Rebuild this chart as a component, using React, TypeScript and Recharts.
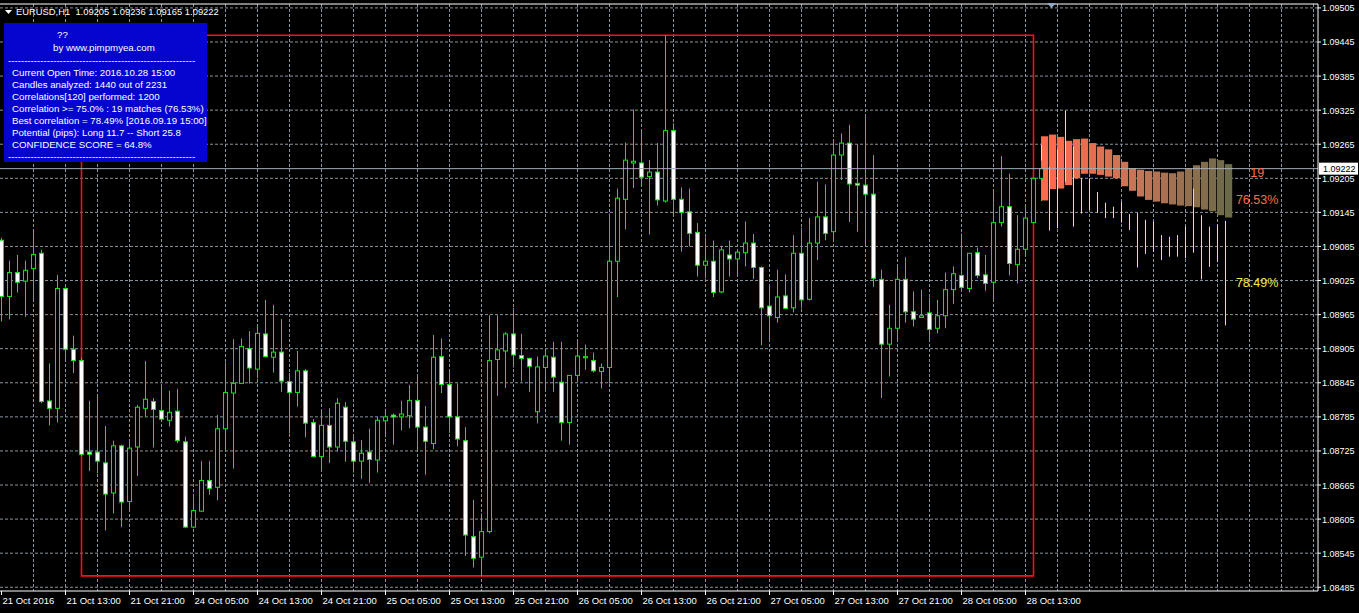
import React from 'react';
import {
  ComposedChart,
  Bar,
  XAxis,
  YAxis,
  CartesianGrid,
  ReferenceLine,
  ReferenceArea,
  ReferenceDot,
} from 'recharts';

const W = 1359;
const H = 613;
const FONT = '"Liberation Sans", Arial, sans-serif';

// EURUSD H1, bar 0 = 21 Oct 2016 05:00, bar 130 = 28 Oct 15:00 (current)
const opens = [
  1.09096, 1.08997, 1.09039, 1.09024, 1.09046, 1.09073, 1.08813, 1.088, 1.09011, 1.08904,
  1.08884, 1.08723, 1.08723, 1.08704, 1.08651, 1.08734, 1.08636, 1.08732, 1.088, 1.08812,
  1.08796, 1.08779, 1.08795, 1.08741, 1.08591, 1.08619, 1.08673, 1.08661, 1.08764, 1.08827,
  1.08844, 1.08905, 1.08869, 1.08931, 1.0889, 1.08899, 1.08847, 1.08828, 1.08866, 1.08775,
  1.08715, 1.0877, 1.08732, 1.08802, 1.08741, 1.08707, 1.08723, 1.08709, 1.08778, 1.08788,
  1.08785, 1.08787, 1.08814, 1.08767, 1.08738, 1.08891, 1.08842, 1.08785, 1.08743, 1.08574,
  1.08538, 1.08583, 1.08886, 1.08901, 1.08931, 1.08893, 1.08888, 1.08794, 1.08872, 1.0889,
  1.08846, 1.08775, 1.08858, 1.08889, 1.08884, 1.08865, 1.08872, 1.09059, 1.09168, 1.09232,
  1.09232, 1.09208, 1.09216, 1.09165, 1.09289, 1.09168, 1.09146, 1.0911, 1.09052, 1.09059,
  1.09005, 1.0907, 1.09063, 1.09074, 1.09091, 1.09048, 1.0898, 1.0896, 1.08998, 1.08977,
  1.09073, 1.08992, 1.09091, 1.09137, 1.09111, 1.09246, 1.09267, 1.09196, 1.09193, 1.09177,
  1.09027, 1.08913, 1.08941, 1.09027, 1.0897, 1.0896, 1.08968, 1.08941, 1.08963, 1.09009,
  1.09034, 1.09011, 1.09074, 1.09035, 1.09022, 1.09127, 1.09155, 1.09053, 1.0908, 1.09127,
  1.09205,
];
const highs = [
  1.091, 1.0906, 1.0907, 1.0906, 1.09115, 1.09079, 1.08879, 1.09035, 1.09013, 1.08928,
  1.08889, 1.08813, 1.08824, 1.08769, 1.08743, 1.08736, 1.08743, 1.08806, 1.08883, 1.08818,
  1.08839, 1.08831, 1.08834, 1.0875, 1.08649, 1.08707, 1.08707, 1.08788, 1.08881, 1.08922,
  1.08923, 1.08936, 1.08943, 1.08991, 1.08982, 1.08957, 1.08862, 1.08901, 1.08869, 1.08781,
  1.08797, 1.088, 1.08818, 1.08811, 1.08753, 1.08744, 1.08764, 1.08785, 1.08798, 1.08791,
  1.08813, 1.08841, 1.08857, 1.08804, 1.08929, 1.08923, 1.08865, 1.08844, 1.08767, 1.08639,
  1.08615, 1.08964, 1.08964, 1.08934, 1.08977, 1.08931, 1.08889, 1.08891, 1.08903, 1.08917,
  1.08917, 1.08858, 1.08919, 1.08912, 1.08898, 1.08879, 1.09143, 1.09187, 1.09268, 1.09326,
  1.09291, 1.09237, 1.09267, 1.09457, 1.09302, 1.09189, 1.09187, 1.09126, 1.09101, 1.09095,
  1.09086, 1.09095, 1.0908, 1.09129, 1.09107, 1.0905, 1.09018, 1.09044, 1.09036, 1.09105,
  1.09118, 1.09135, 1.09199, 1.09194, 1.09269, 1.09284, 1.09299, 1.09265, 1.09315, 1.09246,
  1.09044, 1.08982, 1.0905, 1.09066, 1.09006, 1.09009, 1.08995, 1.08991, 1.09039, 1.0905,
  1.09108, 1.09073, 1.09083, 1.0907, 1.09184, 1.09244, 1.09213, 1.0914, 1.09154, 1.09206,
  1.09236,
];
const lows = [
  1.08953, 1.08957, 1.09004, 1.08961, 1.08992, 1.08809, 1.0877, 1.08775, 1.08886, 1.08862,
  1.08716, 1.0869, 1.08686, 1.08585, 1.08615, 1.08591, 1.08618, 1.08681, 1.08785, 1.08731,
  1.0878, 1.08768, 1.08739, 1.08589, 1.08589, 1.08618, 1.08648, 1.08638, 1.08728, 1.08694,
  1.08843, 1.08844, 1.08853, 1.0889, 1.08863, 1.08829, 1.08756, 1.08803, 1.08749, 1.08714,
  1.08689, 1.08704, 1.08724, 1.08706, 1.08687, 1.08676, 1.08669, 1.08687, 1.08749, 1.08736,
  1.08761, 1.08765, 1.08728, 1.08683, 1.08728, 1.08827, 1.08757, 1.08733, 1.0854, 1.0852,
  1.08505, 1.0858, 1.08822, 1.08836, 1.08872, 1.08847, 1.08829, 1.08774, 1.08833, 1.08829,
  1.08743, 1.08736, 1.08847, 1.08868, 1.08863, 1.08835, 1.08844, 1.08996, 1.09115, 1.09188,
  1.09193, 1.09106, 1.09157, 1.09162, 1.0914, 1.09076, 1.09085, 1.09032, 1.09029, 1.08996,
  1.09003, 1.09032, 1.09033, 1.0905, 1.09028, 1.08911, 1.08917, 1.08951, 1.08975, 1.08969,
  1.08976, 1.0899, 1.09061, 1.09096, 1.09093, 1.09202, 1.09128, 1.09111, 1.09086, 1.09014,
  1.08818, 1.08856, 1.08917, 1.08951, 1.08944, 1.08959, 1.0892, 1.08932, 1.08941, 1.08984,
  1.09005, 1.09004, 1.09029, 1.09007, 1.08989, 1.0912, 1.09034, 1.0902, 1.0907, 1.09126,
  1.09165,
];
const closes = [
  1.08997, 1.09039, 1.09022, 1.09043, 1.09071, 1.08812, 1.088, 1.09011, 1.08904, 1.08884,
  1.08719, 1.08719, 1.08707, 1.08649, 1.08734, 1.08635, 1.0873, 1.08802, 1.08816, 1.08798,
  1.08781, 1.08793, 1.08743, 1.08591, 1.0862, 1.08673, 1.08659, 1.08764, 1.08828, 1.08844,
  1.08909, 1.08871, 1.08932, 1.08891, 1.08899, 1.08848, 1.08828, 1.08866, 1.08774, 1.08715,
  1.0877, 1.08732, 1.08809, 1.08742, 1.08707, 1.08721, 1.0871, 1.08779, 1.08785, 1.08785,
  1.0879, 1.08814, 1.08767, 1.08742, 1.0889, 1.08842, 1.08785, 1.08746, 1.08577, 1.08536,
  1.08583, 1.08884, 1.08903, 1.08931, 1.08894, 1.08888, 1.08874, 1.08873, 1.08892, 1.08855,
  1.08775, 1.08858, 1.08892, 1.08891, 1.08866, 1.08872, 1.09059, 1.0917, 1.09237, 1.09235,
  1.09207, 1.09216, 1.09167, 1.09289, 1.09168, 1.09145, 1.09108, 1.09052, 1.09059, 1.09004,
  1.09079, 1.09063, 1.09075, 1.09091, 1.09048, 1.08977, 1.08963, 1.08996, 1.08976, 1.09073,
  1.08991, 1.09091, 1.09137, 1.09108, 1.09246, 1.09267, 1.09195, 1.09193, 1.09177, 1.09029,
  1.08913, 1.08941, 1.09027, 1.0897, 1.08957, 1.08963, 1.08939, 1.08963, 1.09009, 1.09037,
  1.09013, 1.09073, 1.09034, 1.0902, 1.09127, 1.09155, 1.09055, 1.0908, 1.09135, 1.09205,
  1.09222,
];

// projection band (average of the 19 matches), one column per future bar
const bandTop = [
  1.09279, 1.09282, 1.09278, 1.09271, 1.09274, 1.09275, 1.09267, 1.09261, 1.09256, 1.09246,
  1.09234, 1.09223, 1.0922, 1.09218, 1.09217, 1.09215, 1.09214, 1.09217, 1.09223, 1.09228,
  1.09234, 1.0924, 1.09237, 1.0923,
];
const bandBottom = [
  1.09166, 1.09186, 1.09187, 1.09193, 1.09205, 1.09213, 1.09213, 1.09211, 1.09208, 1.09205,
  1.09191, 1.09183, 1.09173, 1.09167, 1.09164, 1.09161, 1.09159, 1.09157, 1.09156, 1.09154,
  1.0915, 1.09147, 1.0914, 1.09136,
];
// best correlation match, high/low of the following bars
const bestHigh = [
  1.09264, 1.09225, 1.09256, 1.09324, 1.09261, 1.09205, 1.09205, 1.09181, 1.09162, 1.09155,
  1.09164, 1.09142, 1.09144, 1.09132, 1.09129, 1.09105, 1.09102, 1.09105, 1.0912, 1.09187,
  1.0914, 1.0912, 1.09123, 1.0913,
];
const bestLow = [
  1.09167, 1.09113, 1.09117, 1.09199, 1.0912, 1.09143, 1.09149, 1.09144, 1.09135, 1.09135,
  1.09127, 1.09114, 1.09048, 1.09072, 1.09076, 1.09061, 1.09067, 1.09067, 1.09064, 1.09074,
  1.09027, 1.09049, 1.09058, 1.08946,
];

const timeLabels = [
  '21 Oct 2016', '21 Oct 13:00', '21 Oct 21:00', '24 Oct 05:00', '24 Oct 13:00', '24 Oct 21:00',
  '25 Oct 05:00', '25 Oct 13:00', '25 Oct 21:00', '26 Oct 05:00', '26 Oct 13:00', '26 Oct 21:00',
  '27 Oct 05:00', '27 Oct 13:00', '27 Oct 21:00', '28 Oct 05:00', '28 Oct 13:00',
];
const labelBars = timeLabels.map((_, k) => k * 8);
const gridBars = Array.from({ length: 41 }, (_, k) => (k + 1) * 4);
const priceTicks = [
  1.09505, 1.09445, 1.09385, 1.09325, 1.09265, 1.09205, 1.09145, 1.09085, 1.09025,
  1.08965, 1.08905, 1.08845, 1.08785, 1.08725, 1.08665, 1.08605, 1.08545, 1.08485,
];

const FORECAST_START = 130;
const PATTERN_FROM = 10;
const PATTERN_TO = 129;
const CURRENT_PRICE = 1.09222;
const X_DOMAIN: [number, number] = [-0.1875, 164.5625];
const Y_DOMAIN: [number, number] = [1.084784, 1.095119];

const GREEN = '#00f000';
const BEST = '#f2ea4c';
const GRID = '#8a949e';

const rows: any[] = [];
for (let i = 0; i < FORECAST_START + bandTop.length; i++) {
  const r: any = { i };
  const vals: number[] = [];
  if (i < opens.length) {
    r.o = opens[i];
    r.h = highs[i];
    r.l = lows[i];
    r.c = closes[i];
    vals.push(r.h, r.l);
  }
  const k = i - FORECAST_START;
  if (k >= 0) {
    r.k = k;
    r.bt = bandTop[k];
    r.bb = bandBottom[k];
    r.yh = bestHigh[k];
    r.yl = bestLow[k];
    vals.push(r.bt, r.bb, r.yh, r.yl);
  }
  r.range = [Math.min(...vals), Math.max(...vals)];
  rows.push(r);
}

const patternHigh = Math.max(...highs.slice(PATTERN_FROM, PATTERN_TO + 1));
const patternLow = Math.min(...lows.slice(PATTERN_FROM, PATTERN_TO + 1));

// tomato -> salmon brown -> olive, stepping per column
const bandStops = [
  [255, 106, 76],
  [198, 118, 88],
  [106, 106, 72],
];
const bandColor = (k: number) => {
  const t = (k / (bandTop.length - 1)) * 2;
  const s = Math.min(Math.floor(t), 1);
  const f = t - s;
  const a = bandStops[s];
  const b = bandStops[s + 1];
  const c = a.map((v, j) => Math.round(v + (b[j] - v) * f));
  return `rgb(${c[0]},${c[1]},${c[2]})`;
};

const CandleShape = (props: any) => {
  const { x, y, width, height, payload: r } = props;
  if (!r || y == null) return null;
  const [lo, hi] = r.range;
  const py = (p: number) => y + ((hi - p) / (hi - lo)) * height;
  const cx = Math.round(x + width / 2 - 0.5) + 0.5;
  const parts: any[] = [];
  if (r.bt != null) {
    const t = py(r.bt);
    const b = py(r.bb);
    parts.push(<rect key="band" x={cx - 0.5} y={t} width={width} height={b - t} fill={bandColor(r.k)} />);
    parts.push(<line key="best" x1={cx} x2={cx} y1={py(r.yh)} y2={py(r.yl)} stroke={BEST} strokeWidth={1} />);
  }
  if (r.o != null) {
    const top = py(Math.max(r.o, r.c));
    const bot = py(Math.min(r.o, r.c));
    parts.push(<line key="wick" x1={cx} x2={cx} y1={py(r.h)} y2={py(r.l)} stroke={GREEN} strokeWidth={1} />);
    parts.push(
      <rect
        key="body"
        x={cx - 2}
        y={top}
        width={4}
        height={Math.max(bot - top, 0.5)}
        fill={r.c > r.o ? '#000' : '#fff'}
        stroke={GREEN}
        strokeWidth={1}
      />
    );
  }
  return <g>{parts}</g>;
};

const TimeTick = (props: any) => {
  const { x, y, payload } = props;
  const idx = labelBars.indexOf(payload.value);
  return (
    <g>
      <line x1={x} x2={x} y1={y - 4} y2={y} stroke="#fff" />
      <text x={x + 1} y={y + 9} fill="#fff" fontSize={9.5} fontFamily={FONT} textAnchor="start">
        {timeLabels[idx]}
      </text>
    </g>
  );
};

const PriceTick = (props: any) => {
  const { x, y, payload } = props;
  return (
    <text x={x} y={y + 3.5} fill="#fff" fontSize={9} fontFamily={FONT} textAnchor="start">
      {Number(payload.value).toFixed(5)}
    </text>
  );
};

const PriceBox = (props: any) => {
  const { viewBox } = props;
  const x = viewBox.x + viewBox.width + 1;
  const y = viewBox.y;
  return (
    <g>
      <rect x={x} y={y - 6} width={39} height={12} fill="#fff" />
      <text x={x + 4} y={y + 3.5} fill="#000" fontSize={9} fontFamily={FONT}>
        {CURRENT_PRICE.toFixed(5)}
      </text>
    </g>
  );
};

const sideLabel = (text: string, color: string) => (props: any) => {
  const { viewBox } = props;
  const x = viewBox.x + viewBox.width / 2;
  const y = viewBox.y + viewBox.height / 2;
  return (
    <text x={x} y={y + 4.5} fill={color} fontSize={12.5} fontFamily={FONT} textAnchor="start">
      {text}
    </text>
  );
};

const infoLines = [
  'Current Open Time: 2016.10.28 15:00',
  'Candles analyzed: 1440 out of 2231',
  'Correlations[120] performed: 1200',
  'Correlation >= 75.0% : 19 matches (76.53%)',
  'Best correlation = 78.49% [2016.09.19 15:00]',
  'Potential (pips): Long 11.7 -- Short 25.8',
  'CONFIDENCE SCORE = 64.8%',
];
const DASHES = '-'.repeat(58);

const InfoBox = () => {
  const line = (top: number, content: string, left = 8, key?: string) => (
    <div
      key={key}
      style={{
        position: 'absolute',
        left,
        top,
        height: 12,
        lineHeight: '12px',
        whiteSpace: 'nowrap',
      }}
    >
      {content}
    </div>
  );
  return (
    <div
      style={{
        position: 'absolute',
        left: 4,
        top: 23,
        width: 203,
        height: 139,
        background: '#0505cf',
        color: '#fff',
        fontFamily: FONT,
        fontSize: 9.7,
      }}
    >
      {line(6, '??', 53)}
      {line(19, 'by www.pimpmyea.com', 49)}
      {line(32, DASHES, 4)}
      {infoLines.map((t, j) => line(44 + j * 12, t, 8, 'l' + j))}
      {line(128, DASHES, 4)}
    </div>
  );
};

export default function App() {
  return (
    <div style={{ position: 'absolute', left: 0, top: 0, width: W, height: H, background: '#000', overflow: 'hidden' }}>
      <ComposedChart
        width={W}
        height={H}
        data={rows}
        margin={{ top: 4, right: 0, bottom: 0, left: 0 }}
        style={{ background: '#000' }}
      >
        <CartesianGrid
          stroke={GRID}
          strokeDasharray="3 2"
          horizontalValues={priceTicks}
          verticalValues={gridBars}
        />
        <XAxis
          dataKey="i"
          type="number"
          domain={X_DOMAIN}
          allowDataOverflow
          ticks={labelBars}
          interval={0}
          height={22}
          axisLine={{ stroke: '#fff' }}
          tickLine={false}
          tickSize={4}
          tickMargin={0}
          tick={<TimeTick />}
        />
        <YAxis
          type="number"
          orientation="right"
          domain={Y_DOMAIN}
          allowDataOverflow
          ticks={priceTicks}
          interval={0}
          width={41}
          axisLine={{ stroke: '#fff' }}
          tickLine={{ stroke: '#fff' }}
          tickSize={3}
          tickMargin={1}
          tick={<PriceTick />}
        />
        <ReferenceLine y={Y_DOMAIN[1]} stroke="#fff" ifOverflow="visible" />
        <Bar dataKey="range" barSize={8} isAnimationActive={false} shape={<CandleShape />} />
        <ReferenceArea
          x1={PATTERN_FROM}
          x2={PATTERN_TO}
          y1={patternLow}
          y2={patternHigh}
          fill="none"
          fillOpacity={0}
          stroke="#ff1010"
          strokeWidth={1.6}
          ifOverflow="visible"
        />
        <ReferenceLine y={CURRENT_PRICE} stroke="#a4acb4" strokeWidth={1} label={<PriceBox />} />
        <ReferenceDot x={156.1} y={1.09215} r={0} fill="none" stroke="none" label={sideLabel('19', '#ff6a4c')} />
        <ReferenceDot x={154.3} y={1.09167} r={0} fill="none" stroke="none" label={sideLabel('76.53%', '#ff6a4c')} />
        <ReferenceDot x={154.3} y={1.09021} r={0} fill="none" stroke="none" label={sideLabel('78.49%', '#f2ea4c')} />
      </ComposedChart>

      <div
        style={{
          position: 'absolute',
          left: 16,
          top: 6,
          color: '#fff',
          fontFamily: FONT,
          fontSize: 9.4,
          lineHeight: '12px',
          whiteSpace: 'pre',
        }}
      >
        {'EURUSD,H1  1.09205 1.09236 1.09165 1.09222'}
      </div>
      <svg style={{ position: 'absolute', left: 0, top: 0 }} width={W} height={16}>
        <polygon points="5,10 12,10 8.5,14" fill="#fff" />
        <polygon points="1047,3 1056,3 1051.5,8" fill="#8fa8c8" />
      </svg>
      <InfoBox />
    </div>
  );
}
